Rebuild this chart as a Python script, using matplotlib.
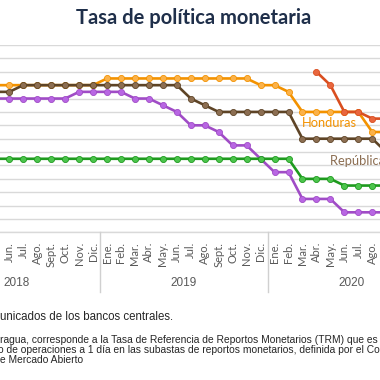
import numpy as np
import matplotlib
matplotlib.use("Agg")
import matplotlib.pyplot as plt
import matplotlib.transforms as mtransforms
from matplotlib.lines import Line2D

nan = np.nan

# meses: índice 0 = Ene. 2018
month_names = ["Ene.", "Feb.", "Mar.", "Abr.", "May.", "Jun.",
               "Jul.", "Ago.", "Sept.", "Oct.", "Nov.", "Dic."]
years = ["2018", "2019", "2020"]

# datos de May. 2018 (índice 4) a Sept. 2020 (índice 32)
first_month = 4
honduras = [5.5] * 8 + [5.75] * 11 + [5.5, 5.5, 5.25] + [4.5] * 5 + [3.75, 3.75]
rep_dominicana = [5.25, 5.25] + [5.5] * 12 + [5.0, 4.75] + [4.5] * 6 + [3.5] * 6 + [3.0]
costa_rica = ([5.0] * 6 + [5.25] * 4 + [5.0, 5.0, 4.75, 4.5, 4.0, 4.0, 3.75, 3.25, 3.25,
              2.75, 2.25, 2.25] + [1.25] * 3 + [0.75] * 4)
guatemala = [2.75] * 22 + [2.0] * 3 + [1.75] * 4
nicaragua = [nan] * 23 + [6.0, 5.5, 4.5, 4.5, 4.25, 4.25]

W, H = 380, 380
fig = plt.figure(figsize=(3.8, 3.8), dpi=100)
fig.patch.set_facecolor("white")

# el gráfico original está recortado: el eje ocupa todo el ancho
px_month = 13.96
x_left = 5 - 9.3 / px_month
x_right = x_left + W / px_month
ax_bottom_px, ax_top_px = 232.4, 45
ax = fig.add_axes([0, (H - ax_bottom_px) / H, 1, (ax_bottom_px - ax_top_px) / H])

x = np.arange(first_month, first_month + len(honduras))

series = [
    (costa_rica, "#a04cc6", "#b866e3"),
    (guatemala, "#1e9a1e", "#4cc44c"),
    (honduras, "#f39200", "#fbb24a"),
    (rep_dominicana, "#5e4426", "#8c6e52"),
    (nicaragua, "#d94e1f", "#e8663e"),
]
for vals, lc, mc in series:
    ax.plot(x, vals, color=lc, linewidth=1.9, marker="o", markersize=4.4,
            markerfacecolor=mc, markeredgecolor=lc, markeredgewidth=0.6)

ax.set_yticks(np.arange(0, 7.01, 0.5))
ax.yaxis.grid(True, color="#d9d9d9", linewidth=1.0)
ax.set_axisbelow(True)
ax.tick_params(axis="y", left=False, labelleft=False)
for s in ["left", "right", "top"]:
    ax.spines[s].set_visible(False)
ax.spines["bottom"].set_color("#d9d9d9")
ax.spines["bottom"].set_linewidth(1.0)

ticks = list(range(36))
labels = month_names * 3
ax.set_xticks(ticks)
ax.set_xticklabels(labels, rotation=90, fontsize=8, color="#595959", family="Lato")
ax.tick_params(axis="x", length=0, pad=7)

# límites después de los ticks (set_xticks amplía la vista)
ax.set_xlim(x_left, x_right)
ax.set_ylim(0, 7)

ax.text(25.95, 4.1, "Honduras", color="#f39200", fontsize=9.3, va="center",
        family="Lato")
ax.text(27.97, 2.67, "República Dominicana", color="#8c6e52", fontsize=9.3,
        va="center", family="Lato")

# separadores de año y etiquetas de año
trans = mtransforms.blended_transform_factory(ax.transData, fig.transFigure)
for b in [11.5, 23.5]:
    fig.add_artist(Line2D([b, b], [(H - 232) / H, (H - 292) / H], transform=trans,
                          color="#d0d0d0", linewidth=1.0))
for i, yr in enumerate(years):
    fig.text(12 * i + 5.5, (H - 283) / H, yr, transform=trans, ha="center",
             va="center", fontsize=8.5, color="#595959", family="Liberation Sans")

fig.text(0.509, (H - 18) / H, "Tasa de política monetaria", ha="center",
         va="center", fontsize=14.5, fontweight="bold", color="#1f2f4a",
         family="Lato")

fig.text(0, (H - 317) / H, "unicados de los bancos centrales.", ha="left",
         va="center", fontsize=8.3, color="#262626", family="Liberation Sans")
notes = [
    (0, 340, "ragua, corresponde a la Tasa de Referencia de Reportos Monetarios (TRM) que es"),
    (-2.5, 350, "o de operaciones a 1 día en las subastas de reportos monetarios, definida por el Comité"),
    (0, 360, "e Mercado Abierto"),
]
for xp, yp, t in notes:
    fig.text(xp / W, (H - yp) / H, t, ha="left", va="center", fontsize=7.4,
             color="#262626", family="Liberation Sans")

fig.savefig("out.png", dpi=100)
